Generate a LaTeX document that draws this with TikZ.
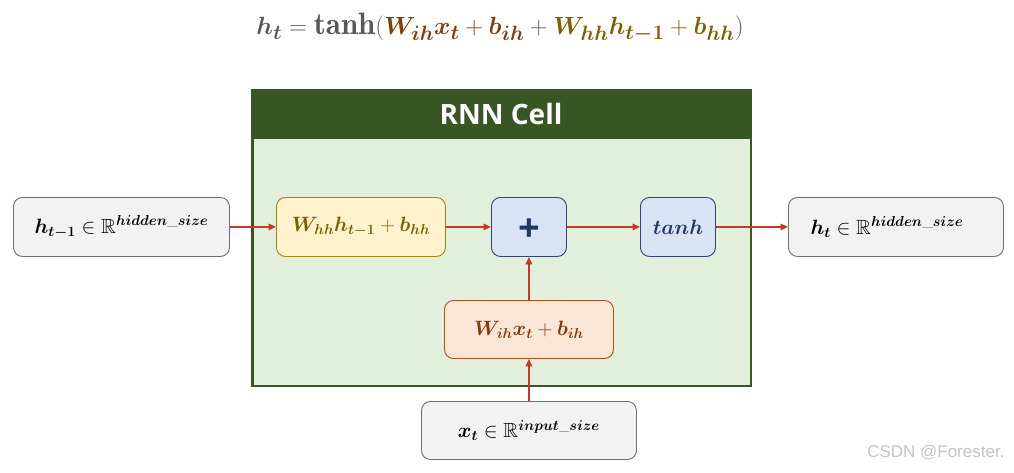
\documentclass[tikz,border=0pt]{standalone}
\usepackage{amsmath,amssymb,bm}
\usepackage{fontspec}
\newfontfamily\headfont{Open Sans}
\newfontfamily\wmfont{Liberation Sans}
\usetikzlibrary{arrows.meta}
\definecolor{darkgreen}{RGB}{56,86,35}
\definecolor{lightgreen}{RGB}{226,239,218}
\definecolor{grayfill}{RGB}{242,242,242}
\definecolor{grayline}{RGB}{110,110,110}
\definecolor{yfill}{RGB}{255,242,204}
\definecolor{yline}{RGB}{170,130,20}
\definecolor{ytext}{RGB}{127,96,0}
\definecolor{bfill}{RGB}{218,227,243}
\definecolor{bline}{RGB}{47,70,120}
\definecolor{btext}{RGB}{32,56,100}
\definecolor{ofill}{RGB}{251,229,214}
\definecolor{oline}{RGB}{170,80,30}
\definecolor{otext}{RGB}{132,60,12}
\definecolor{arrowred}{RGB}{197,56,33}
\definecolor{formgray}{RGB}{89,89,89}
\definecolor{wmgray}{RGB}{195,195,195}
\tikzset{
  rbox/.style={draw, line width=0.9pt, rounded corners=9pt, inner sep=0pt, anchor=north west},
  iobox/.style={rbox, fill=grayfill, draw=grayline},
  ybox/.style={rbox, fill=yfill, draw=yline},
  bbox/.style={rbox, fill=bfill, draw=bline},
  obox/.style={rbox, fill=ofill, draw=oline},
  flow/.style={draw=arrowred, line width=1.8pt, -{Triangle[length=7.5pt,width=6.5pt]}},
  mtext/.style={font=\fontsize{20.5}{24}\selectfont}
}
\begin{document}
\begin{tikzpicture}[x=1pt,y=-1pt]
\useasboundingbox (0,0) rectangle (1014,472);
% formula
\node[font=\fontsize{31}{35}\selectfont, text=formgray] (formula) at (500,28)
 {$\bm{h_t} = \mathbf{tanh}(\textcolor{otext}{\bm{W_{ih}x_t} + \bm{b_{ih}}} + \textcolor{ytext}{\bm{W_{hh}h_{t-1}} + \bm{b_{hh}}})$};
% RNN cell frame
\fill[darkgreen] (251,89) rectangle (752,387);
\fill[lightgreen] (253.5,139) rectangle (749.5,384.5);
\node[font=\headfont\bfseries\fontsize{28}{32}\selectfont, text=white] (title) at (501,114) {RNN Cell};
% boxes
\node[iobox, minimum width=216pt, minimum height=59pt] (hprev) at (13,197) {};
\node[mtext] at (hprev.center) {$\bm{h_{t-1}}\in\mathbb{R}^{\bm{hidden\_size}}$};
\node[ybox, minimum width=169pt, minimum height=59pt] (whh) at (276,197) {};
\node[mtext, text=ytext] at (whh.center) {$\bm{W_{hh}h_{t-1}}+\bm{b_{hh}}$};
\node[bbox, minimum width=75pt, minimum height=59pt] (plus) at (491,197) {};
\node[font=\headfont\bfseries\fontsize{38}{38}\selectfont, text=btext] at ([yshift=-3pt]plus.center) {+};
\node[bbox, minimum width=75pt, minimum height=59pt] (tanh) at (640,197) {};
\node[mtext, text=btext] at (tanh.center) {$\bm{tanh}$};
\node[iobox, minimum width=215pt, minimum height=59pt] (hout) at (788,197) {};
\node[mtext] at ([xshift=-9pt]hout.center) {$\bm{h_{t}}\in\mathbb{R}^{\bm{hidden\_size}}$};
\node[obox, minimum width=169pt, minimum height=58pt] (wih) at (444,300) {};
\node[mtext, text=otext] at (wih.center) {$\bm{W_{ih}x_t}+\bm{b_{ih}}$};
\node[iobox, minimum width=215pt, minimum height=58pt] (xt) at (421,401) {};
\node[mtext] at (xt.center) {$\bm{x_{t}}\in\mathbb{R}^{\bm{input\_size}}$};
% connectors
\draw[flow] (hprev.east) -- (whh.west);
\draw[flow] (whh.east) -- (plus.west);
\draw[flow] (plus.east) -- (tanh.west);
\draw[flow] (tanh.east) -- (hout.west);
\draw[flow] (xt.north -| plus.center) -- (wih.south -| plus.center);
\draw[flow] (wih.north -| plus.center) -- (plus.south);
% watermark
\node[font=\wmfont\fontsize{17}{19}\selectfont, text=wmgray, anchor=east] (wm) at (1008,453) {CSDN @Forester.};
\end{tikzpicture}
\end{document}
